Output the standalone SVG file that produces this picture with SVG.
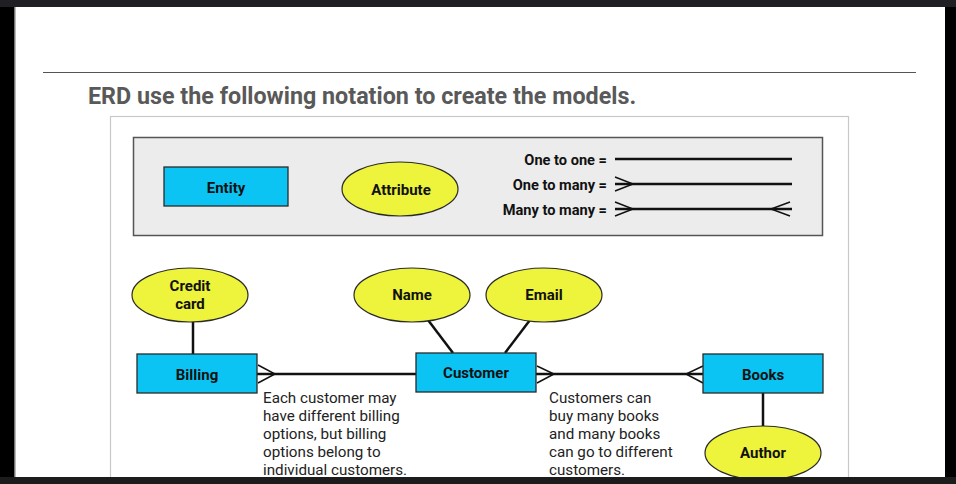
<svg xmlns="http://www.w3.org/2000/svg" width="956" height="484" viewBox="0 0 956 484">
<defs>
<style>
.ent{fill:#0bc4f4;stroke:#2a2a2a;stroke-width:1.3}
.att{fill:#eef33b;stroke:#2a2a2a;stroke-width:1.2}
.lbl{font-family:Roboto,"Liberation Sans",sans-serif;font-weight:bold;font-size:15px;fill:#111;text-anchor:middle}
.leg{font-family:Roboto,"Liberation Sans",sans-serif;font-weight:bold;font-size:14.6px;fill:#111;text-anchor:end}
.note{font-family:Roboto,"Liberation Sans",sans-serif;font-size:15.2px;fill:#222}
.ln{stroke:#111;stroke-width:2.5;fill:none}
.cf{stroke:#111;stroke-width:1.5;fill:none}
</style>
</defs>
<rect width="956" height="484" fill="#ffffff"/>
<rect x="0" y="0" width="15" height="484" fill="#000"/>
<rect x="945" y="0" width="11" height="484" fill="#000"/>
<rect x="14" y="0" width="1.5" height="484" fill="#777"/>
<rect x="0" y="0" width="956" height="7" fill="#202024"/>
<line x1="43" y1="72.5" x2="916" y2="72.5" stroke="#555" stroke-width="1.2"/>
<text x="88" y="104" style="font-family:Roboto,'Liberation Sans',sans-serif;font-weight:bold;font-size:23.3px;fill:#595959">ERD use the following notation to create the models.</text>
<rect x="110.5" y="116.5" width="738" height="380" fill="none" stroke="#c8c8c8" stroke-width="1.2"/>
<g id="legend">
<rect x="133.5" y="137.5" width="689" height="98" fill="#ececec" stroke="#555" stroke-width="1.5"/>
<g id="legend-entity"><rect class="ent" x="164" y="167" width="124" height="39"/><text class="lbl" x="226" y="193">Entity</text></g>
<g id="legend-attribute"><ellipse class="att" cx="400" cy="189" rx="58" ry="27"/><text class="lbl" x="401" y="195">Attribute</text></g>
<text class="leg" x="607" y="165">One to one =</text>
<text class="leg" x="607" y="190">One to many =</text>
<text class="leg" x="607" y="215">Many to many =</text>
<line class="ln" x1="615" y1="159" x2="792" y2="159"/>
<line class="ln" x1="615" y1="184" x2="792" y2="184"/>
<path class="cf" d="M615 177 L633 184 L615 191"/>
<line class="ln" x1="615" y1="209" x2="792" y2="209"/>
<path class="cf" d="M615 202 L633 209 L615 216"/>
<path class="cf" d="M790 202 L771 209 L790 216"/>
</g>
<g id="connectors">
<line class="ln" x1="193" y1="322" x2="193" y2="354"/>
<line class="ln" x1="428" y1="320" x2="453" y2="353"/>
<line class="ln" x1="530" y1="320" x2="505" y2="353"/>
<line class="ln" x1="257" y1="374" x2="416" y2="374"/>
<path class="cf" d="M258 365 L275 374 L258 383"/>
<line class="ln" x1="536" y1="374" x2="703" y2="374"/>
<path class="cf" d="M537 366 L554 374 L537 383"/>
<path class="cf" d="M703 366 L686 374 L703 383"/>
<line class="ln" x1="763" y1="393" x2="763" y2="426"/>
</g>
<g id="credit-card"><ellipse class="att" cx="190" cy="295" rx="58" ry="27"/><text class="lbl" x="190" y="291">Credit</text><text class="lbl" x="190" y="309">card</text></g>
<g id="name"><ellipse class="att" cx="412" cy="295" rx="58" ry="27"/><text class="lbl" x="412" y="300">Name</text></g>
<g id="email"><ellipse class="att" cx="544" cy="295" rx="58" ry="27"/><text class="lbl" x="544" y="300">Email</text></g>
<g id="billing"><rect class="ent" x="137" y="354" width="120" height="39"/><text class="lbl" x="197" y="380">Billing</text></g>
<g id="customer"><rect class="ent" x="416" y="353" width="120" height="39"/><text class="lbl" x="476" y="378">Customer</text></g>
<g id="books"><rect class="ent" x="703" y="354" width="120" height="39"/><text class="lbl" x="763" y="380">Books</text></g>
<g id="author"><ellipse class="att" cx="763" cy="453" rx="58" ry="27"/><text class="lbl" x="763" y="458">Author</text></g>
<g id="notes">
<text class="note" x="263" y="403">Each customer may</text>
<text class="note" x="263" y="421">have different billing</text>
<text class="note" x="263" y="439">options, but billing</text>
<text class="note" x="263" y="457">options belong to</text>
<text class="note" x="263" y="475">individual customers.</text>
<text class="note" x="549" y="403">Customers can</text>
<text class="note" x="549" y="421">buy many books</text>
<text class="note" x="549" y="439">and many books</text>
<text class="note" x="549" y="457">can go to different</text>
<text class="note" x="549" y="475">customers.</text>
</g>
<rect x="0" y="477" width="956" height="7" fill="#1c1c1c"/>
</svg>
